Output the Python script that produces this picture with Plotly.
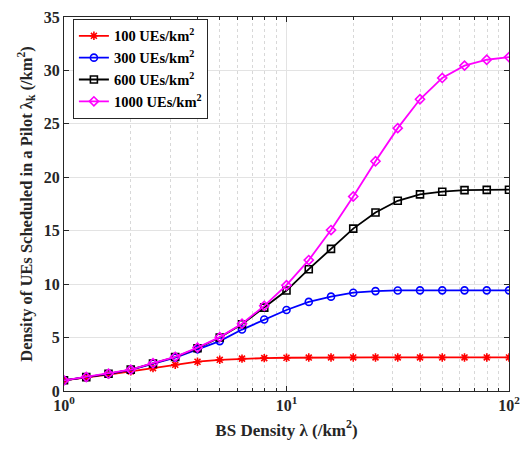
import plotly.graph_objects as go

bs_density = [1.0, 1.259, 1.585, 1.995, 2.512, 3.162, 3.981, 5.012, 6.310, 7.943,
              10.0, 12.59, 15.85, 19.95, 25.12, 31.62, 39.81, 50.12, 63.10, 79.43, 100.0]

ue100 = [1.0, 1.24, 1.54, 1.84, 2.14, 2.45, 2.74, 2.92, 3.03, 3.08,
         3.11, 3.13, 3.14, 3.14, 3.14, 3.14, 3.14, 3.14, 3.14, 3.14, 3.14]
ue300 = [1.0, 1.29, 1.6, 1.97, 2.55, 3.12, 3.9, 4.67, 5.75, 6.69,
         7.58, 8.34, 8.83, 9.2, 9.35, 9.41, 9.42, 9.42, 9.42, 9.42, 9.42]
ue600 = [1.0, 1.3, 1.61, 2.0, 2.58, 3.18, 4.0, 5.0, 6.25, 7.8,
         9.4, 11.4, 13.3, 15.2, 16.7, 17.8, 18.4, 18.65, 18.8, 18.82, 18.84]
ue1000 = [1.0, 1.31, 1.62, 2.0, 2.6, 3.2, 4.06, 5.04, 6.3, 7.97,
          9.9, 12.25, 15.06, 18.2, 21.5, 24.6, 27.3, 29.3, 30.45, 31.0, 31.25]

series_names = ["100 UEs/km<sup>2</sup>", "300 UEs/km<sup>2</sup>",
                "600 UEs/km<sup>2</sup>", "1000 UEs/km<sup>2</sup>"]
x_tick_vals = [1, 10, 100]
x_tick_text = ["10<sup>0</sup>", "10<sup>1</sup>", "10<sup>2</sup>"]
y_tick_vals = [0, 5, 10, 15, 20, 25, 30, 35]
minor_x = [2, 3, 4, 5, 6, 7, 8, 9, 20, 30, 40, 50, 60, 70, 80, 90]

styles = [("#ff0000", "asterisk-open"), ("#0000ff", "circle-open"),
          ("#000000", "square-open"), ("#ff00ff", "diamond-open")]

fig = go.Figure()
for name, ys, (col, sym) in zip(series_names, [ue100, ue300, ue600, ue1000], styles):
    fig.add_trace(go.Scatter(
        x=bs_density, y=ys, name="<b>" + name + "</b>", mode="lines+markers",
        line=dict(color=col, width=1.8),
        marker=dict(symbol=sym, size=7, color=col, line=dict(color=col, width=1.6)),
    ))

FAM = "Liberation Serif"
INK = "#262626"

fig.update_layout(
    width=529, height=449,
    margin=dict(l=64, r=16, t=9, b=58),
    paper_bgcolor="white", plot_bgcolor="white",
    font=dict(family=FAM, size=15, color=INK),
    showlegend=True,
    legend=dict(x=0.02, y=0.995, xanchor="left", yanchor="top",
                bgcolor="white", bordercolor=INK, borderwidth=1,
                font=dict(family=FAM, size=14.5, color="#000000"),
                tracegroupgap=0, itemwidth=30),
    xaxis=dict(
        type="log", range=[0, 2],
        tickmode="array", tickvals=x_tick_vals, ticktext=x_tick_text,
        ticks="inside", ticklen=5, tickcolor=INK,
        showgrid=True, gridcolor="#e3e3e3", gridwidth=1,
        showline=True, linecolor=INK, linewidth=1, mirror="ticks",
        minor=dict(tickmode="array", tickvals=minor_x, ticks="inside", ticklen=3,
                   tickcolor=INK, showgrid=True, gridcolor="#d8d8d8", griddash="dot"),
        title=dict(text="<b>BS Density λ (/km<sup>2</sup>)</b>", standoff=10,
                   font=dict(family=FAM, size=17, color=INK)),
        tickfont=dict(family=FAM, size=16, color=INK, weight="bold"),
        zeroline=False,
    ),
    yaxis=dict(
        range=[0, 35], tickmode="array", tickvals=y_tick_vals,
        ticks="inside", ticklen=5, tickcolor=INK,
        showgrid=True, gridcolor="#e3e3e3", gridwidth=1,
        showline=True, linecolor=INK, linewidth=1, mirror="ticks",
        title=dict(text="<b>Density of UEs Scheduled in a Pilot λ<sub>k</sub> (/km<sup>2</sup>)</b>",
                   standoff=7,
                   font=dict(family=FAM, size=16.5, color=INK)),
        tickfont=dict(family=FAM, size=16, color=INK, weight="bold"),
        zeroline=False,
    ),
)

fig.write_html(
    "out.html",
    config={"displayModeBar": False},
    post_script="document.body.style.margin='0';document.body.style.overflow='hidden';",
)
